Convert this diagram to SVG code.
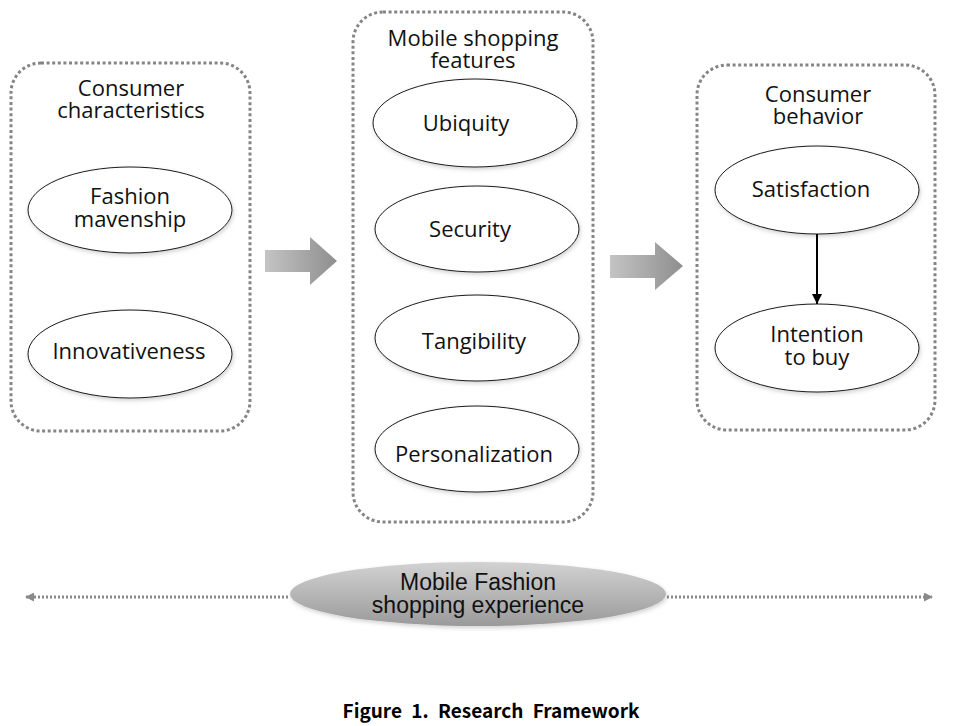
<svg xmlns="http://www.w3.org/2000/svg" width="957" height="726" viewBox="0 0 957 726">
<defs>
<style>
.box{fill:none;stroke:#858585;stroke-width:3;stroke-dasharray:3 2.6}
.ell{fill:#fff;stroke:#1a1a1a;stroke-width:1}
.t{font-family:"Open Sans","Noto Sans",sans-serif;font-size:22px;fill:#111;text-anchor:middle}
.b{font-family:"Liberation Sans",Arial,sans-serif;font-size:23px;fill:#111;text-anchor:middle}
.cap{font-family:"Noto Sans CJK KR","Liberation Sans",sans-serif;font-size:19px;font-weight:bold;fill:#000;text-anchor:middle}
.dot{stroke:#8a8a8a;stroke-width:3;stroke-dasharray:2 2;fill:none}
</style>
<linearGradient id="ga" x1="0" y1="0" x2="1" y2="0">
<stop offset="0" stop-color="#c4c4c4"/>
<stop offset="1" stop-color="#8e8e8e"/>
</linearGradient>
<linearGradient id="ge" x1="0" y1="0" x2="0" y2="1">
<stop offset="0" stop-color="#d2d2d2"/>
<stop offset="1" stop-color="#9a9a9a"/>
</linearGradient>
<filter id="sh" x="-20%" y="-20%" width="140%" height="150%">
<feDropShadow dx="1" dy="2" stdDeviation="2" flood-color="#000" flood-opacity="0.18"/>
</filter>
<marker id="ah" viewBox="0 0 10 10" refX="10" refY="5" markerWidth="10" markerHeight="10" markerUnits="userSpaceOnUse" orient="auto">
<path d="M0,0 L10,5 L0,10 Z" fill="#000"/>
</marker>
<marker id="gh" viewBox="0 0 10 10" refX="9" refY="5" markerWidth="9" markerHeight="9" markerUnits="userSpaceOnUse" orient="auto-start-reverse">
<path d="M0,0 L10,5 L0,10 Z" fill="#8a8a8a"/>
</marker>
</defs>
<rect width="957" height="726" fill="#fff"/>

<g id="consumer-characteristics">
<rect class="box" x="11" y="63" width="239" height="368" rx="30"/>
<text class="t" x="131" y="96">Consumer</text>
<text class="t" x="131" y="118">characteristics</text>
</g>
<g id="fashion-mavenship">
<ellipse class="ell" filter="url(#sh)" cx="130" cy="210" rx="102" ry="43"/>
<text class="t" x="130" y="204">Fashion</text>
<text class="t" x="130" y="227">mavenship</text>
</g>
<g id="innovativeness">
<ellipse class="ell" filter="url(#sh)" cx="130" cy="354" rx="102" ry="44"/>
<text class="t" x="129" y="359">Innovativeness</text>
</g>

<g id="mobile-shopping-features">
<rect class="box" x="353" y="12" width="240" height="510" rx="30"/>
<text class="t" x="473" y="46">Mobile shopping</text>
<text class="t" x="473" y="68">features</text>
</g>
<g id="ubiquity">
<ellipse class="ell" filter="url(#sh)" cx="475" cy="123" rx="102" ry="44"/>
<text class="t" x="466" y="131">Ubiquity</text>
</g>
<g id="security">
<ellipse class="ell" filter="url(#sh)" cx="477" cy="229" rx="102" ry="43"/>
<text class="t" x="470" y="237">Security</text>
</g>
<g id="tangibility">
<ellipse class="ell" filter="url(#sh)" cx="477" cy="338" rx="102" ry="43"/>
<text class="t" x="474" y="349">Tangibility</text>
</g>
<g id="personalization">
<ellipse class="ell" filter="url(#sh)" cx="477" cy="449" rx="102" ry="43"/>
<text class="t" x="474" y="462">Personalization</text>
</g>

<g id="consumer-behavior">
<rect class="box" x="697" y="65" width="238" height="365" rx="30"/>
<text class="t" x="818" y="102">Consumer</text>
<text class="t" x="818" y="124">behavior</text>
</g>
<g id="satisfaction">
<ellipse class="ell" filter="url(#sh)" cx="817" cy="190" rx="102" ry="44"/>
<text class="t" x="811" y="197">Satisfaction</text>
</g>
<g id="intention-to-buy">
<ellipse class="ell" filter="url(#sh)" cx="817" cy="348" rx="102" ry="44"/>
<text class="t" x="817" y="342">Intention</text>
<text class="t" x="817" y="365">to buy</text>
</g>

<g id="experience">
<ellipse cx="478" cy="594" rx="188" ry="32" fill="url(#ge)" filter="url(#sh)"/>
<text class="b" x="478" y="590">Mobile Fashion</text>
<text class="b" x="478" y="613">shopping experience</text>
</g>

<g id="connectors">
<path d="M265,250 H310 V237 L337,261 L310,285 V272 H265 Z" fill="url(#ga)"/>
<path d="M610,255 H655 V242 L683,266 L655,290 V278 H610 Z" fill="url(#ga)"/>
<line x1="817" y1="234" x2="817" y2="304" stroke="#000" stroke-width="2" marker-end="url(#ah)"/>
<line class="dot" x1="26" y1="597" x2="290" y2="597" marker-start="url(#gh)"/>
<line class="dot" x1="667" y1="597" x2="932" y2="597" marker-end="url(#gh)"/>
</g>

<text class="cap" x="491" y="718" word-spacing="5">Figure 1. Research Framework</text>
</svg>
